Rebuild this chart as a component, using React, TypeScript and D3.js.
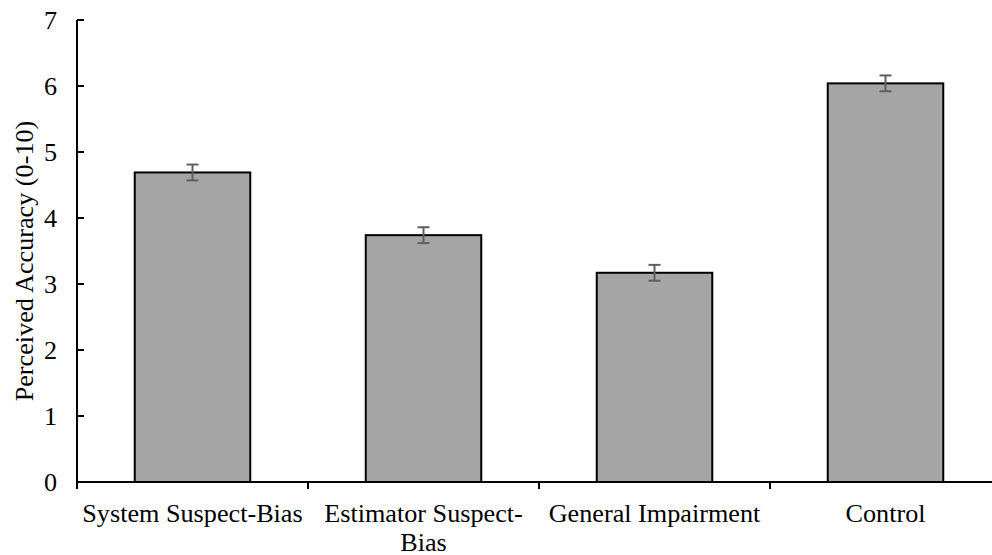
import React from "react";
import * as d3 from "d3";

const categories = ["System Suspect-Bias", "Estimator Suspect-Bias", "General Impairment", "Control"];
const means = [4.69, 3.74, 3.17, 6.04];
const errors = [0.12, 0.12, 0.12, 0.12];
const yTicks = [0, 1, 2, 3, 4, 5, 6, 7];
const yLabel = "Perceived Accuracy (0-10)";

const W = 992;
const H = 555;
const FONT = "Liberation Serif, Times New Roman, serif";

function wrap(text: string, maxW: number, font: string): string[] {
  const c = document.createElement("canvas").getContext("2d");
  if (!c) return [text];
  c.font = font;
  if (c.measureText(text).width <= maxW) return [text];
  const tokens = text.match(/[^\s-]+-?|\s+/g) || [text];
  const lines: string[] = [];
  let cur = "";
  for (const t of tokens) {
    const test = cur + t;
    if (c.measureText(test.trim()).width > maxW && cur.trim() !== "") {
      lines.push(cur.trim());
      cur = t.trim() ? t : "";
    } else {
      cur = test;
    }
  }
  if (cur.trim()) lines.push(cur.trim());
  return lines;
}

export default function App() {
  const x0 = 77;
  const bw = 231;
  const x = d3.scaleBand<string>().domain(categories).range([x0, x0 + bw * categories.length]).paddingInner(0).paddingOuter(0);
  const y = d3.scaleLinear().domain([0, 7]).range([482, 20]);
  const barW = x.bandwidth() * 0.5;
  const fontSize = 26.2;
  const ts = { fontFamily: FONT, fontSize: fontSize };

  return (
    <svg width={W} height={H} style={{ position: "absolute", left: 0, top: 0, background: "#fff" }}>
      {categories.map((c, i) => {
        const cx = (x(c) as number) + x.bandwidth() / 2;
        return (
          <rect key={c} x={cx - barW / 2} y={y(means[i])} width={barW} height={y(0) - y(means[i])}
            fill="#a5a5a5" stroke="#000" strokeWidth={2} />
        );
      })}
      {categories.map((c, i) => {
        const cx = (x(c) as number) + x.bandwidth() / 2;
        const yt = y(means[i] + errors[i]);
        const yb = y(means[i] - errors[i]);
        return (
          <g key={c} stroke="#5f5f5f" strokeWidth={2}>
            <line x1={cx} x2={cx} y1={yt} y2={yb} />
            <line x1={cx - 6} x2={cx + 6} y1={yt} y2={yt} />
            <line x1={cx - 6} x2={cx + 6} y1={yb} y2={yb} />
          </g>
        );
      })}
      <line x1={x0} x2={x0} y1={y(7)} y2={y(0) + 7} stroke="#000" strokeWidth={2} />
      {yTicks.map((t) => (
        <g key={t}>
          <line x1={x0} x2={x0 + 7} y1={y(t)} y2={y(t)} stroke="#000" strokeWidth={2} />
          <text x={57} y={y(t)} dy="0.33em" textAnchor="end" style={ts} fill="#000">{t}</text>
        </g>
      ))}
      <line x1={x0} x2={W} y1={y(0)} y2={y(0)} stroke="#000" strokeWidth={2} />
      {categories.map((c) => (
        <line key={c} x1={x(c) as number} x2={x(c) as number} y1={y(0)} y2={y(0) + 7} stroke="#000" strokeWidth={2} />
      ))}
      {categories.map((c) => {
        const cx = (x(c) as number) + x.bandwidth() / 2;
        const lines = wrap(c, x.bandwidth() - 2, `${fontSize}px ${FONT}`);
        return (
          <text key={c} x={cx} y={522} textAnchor="middle" style={ts} fill="#000">
            {lines.map((l, k) => (
              <tspan key={k} x={cx} dy={k === 0 ? 0 : 28.5}>{l}</tspan>
            ))}
          </text>
        );
      })}
      <text transform={`translate(33, 261) rotate(-90)`} textAnchor="middle" style={ts} fill="#000">
        {yLabel}
      </text>
    </svg>
  );
}
